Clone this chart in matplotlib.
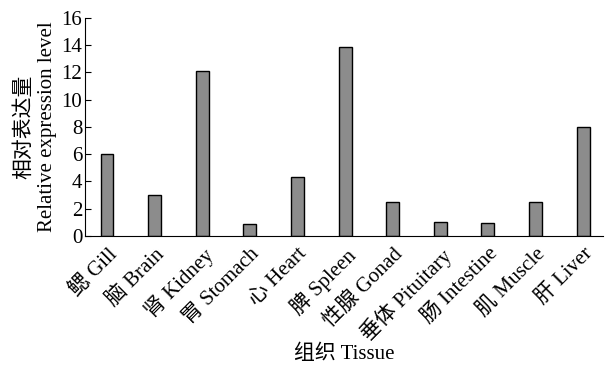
import matplotlib
matplotlib.use('Agg')
import matplotlib.pyplot as plt

plt.rcParams['font.family'] = ['Liberation Serif', 'Noto Sans CJK SC']

tissues = ['鳃 Gill', '脑 Brain', '肾 Kidney', '胃 Stomach', '心 Heart', '脾 Spleen',
           '性腺 Gonad', '垂体 Pituitary', '肠 Intestine', '肌 Muscle', '肝 Liver']
levels = [6.0, 3.0, 12.1, 0.86, 4.3, 13.9, 2.52, 1.0, 0.95, 2.47, 8.0]

fig = plt.figure(figsize=(6.08, 3.67), dpi=100)
ax = fig.add_axes([0.14, 0.357, 0.852, 0.594])

x = range(len(tissues))
ax.bar(x, levels, width=0.27, color='#8c8c8c', edgecolor='black', linewidth=1.0)

ax.set_xlim(-0.46, 10.42)
ax.set_ylim(0, 16)
ax.set_yticks(range(0, 17, 2))
ax.set_xticks(list(x))
ax.set_xticklabels(tissues, rotation=45, ha='right', rotation_mode='anchor', fontsize=15)
ax.tick_params(axis='y', direction='in', length=4, labelsize=15, pad=2)
ax.tick_params(axis='x', length=0, pad=6)

ax.spines['top'].set_visible(False)
ax.spines['right'].set_visible(False)

ax.set_ylabel('相对表达量\nRelative expression level', fontsize=15, linespacing=1.3, labelpad=3)
ax.set_xlabel('组织 Tissue', fontsize=15, labelpad=0)

fig.savefig('out.png', dpi=100)
